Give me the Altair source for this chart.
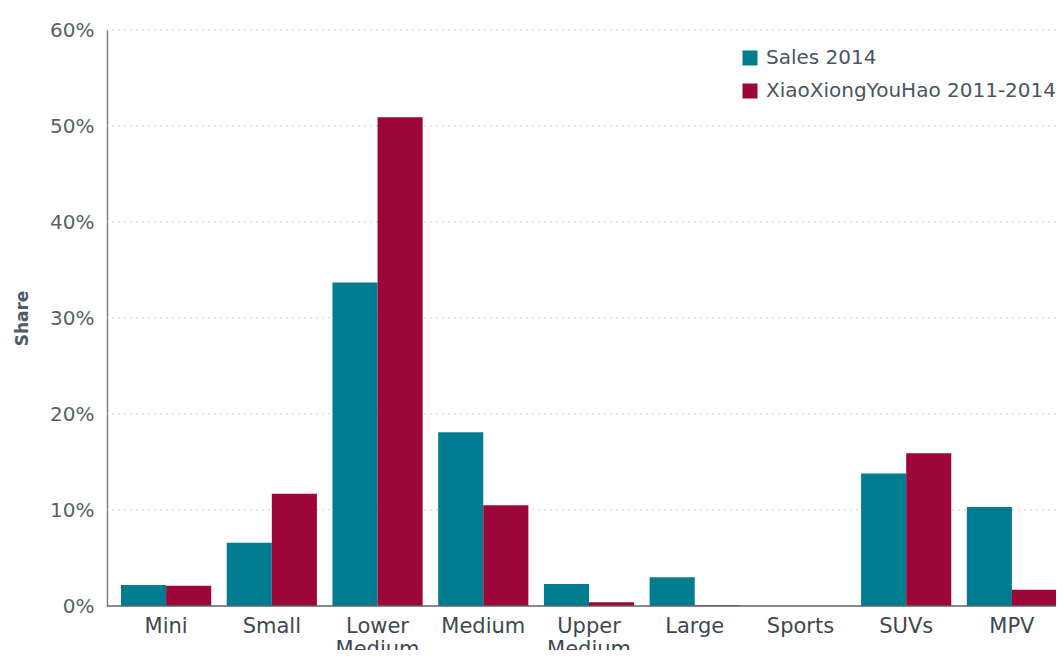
import altair as alt
import pandas as pd

categories = ["Mini", "Small", "Lower Medium", "Medium", "Upper Medium", "Large", "Sports", "SUVs", "MPV"]
series_names = ["Sales 2014", "XiaoXiongYouHao 2011-2014"]
sales_2014 = [0.022, 0.066, 0.337, 0.181, 0.023, 0.030, 0.0, 0.138, 0.103]
xxyh_2011_2014 = [0.021, 0.117, 0.509, 0.105, 0.004, 0.0008, 0.0, 0.159, 0.017]
y_ticks = [0.1, 0.2, 0.3, 0.4, 0.5, 0.6]
colors = ["#007C91", "#9D0639"]

rows = []
for i, c in enumerate(categories):
    rows.append({"Category": c, "Series": series_names[0], "Share": sales_2014[i]})
    rows.append({"Category": c, "Series": series_names[1], "Share": xxyh_2011_2014[i]})
df = pd.DataFrame(rows)
grid_df = pd.DataFrame({"Share": y_ticks})

FONT = "DejaVu Sans"
yscale = alt.Scale(domain=[0, 0.6], nice=False)
yaxis = alt.Axis(title="Share", format=".0%", values=[0, 0.1, 0.2, 0.3, 0.4, 0.5, 0.6],
                 ticks=False, grid=False, labelFontSize=20, labelColor="#56616a",
                 labelFont=FONT, labelPadding=13, titleFont=FONT, titleFontSize=17,
                 titleFontWeight="bold", titleColor="#4f5a63", titlePadding=18,
                 domainColor="#7a8288", domainWidth=1.5)

grid = alt.Chart(grid_df).mark_rule(color="#c8c8c8", strokeDash=[2, 4], strokeWidth=1.2).encode(
    y=alt.Y("Share:Q", scale=yscale, axis=yaxis)
)

bars = alt.Chart(df).mark_bar().encode(
    x=alt.X("Category:N", sort=categories,
            scale=alt.Scale(range=[14, 950], paddingInner=0.147, paddingOuter=0),
            axis=alt.Axis(title=None, labelAngle=0, ticks=False, domain=False,
                          labelExpr="split(datum.label, ' ')",
                          labelFontSize=21, labelFontWeight="normal",
                          labelColor="#3d4852", labelFont=FONT,
                          labelPadding=9, labelLineHeight=23)),
    xOffset=alt.XOffset("Series:N", sort=series_names),
    y=alt.Y("Share:Q", scale=yscale, axis=yaxis),
    color=alt.Color("Series:N", sort=series_names,
                    scale=alt.Scale(domain=series_names, range=colors),
                    legend=alt.Legend(title=None, orient="none", legendX=633, legendY=18,
                                      symbolType="square", symbolSize=225,
                                      symbolStrokeWidth=0, labelFontSize=20,
                                      labelFont=FONT, labelColor="#4a555e", labelLimit=0,
                                      rowPadding=13, labelOffset=6)),
)

baseline = alt.Chart(pd.DataFrame({"Share": [0.0]})).mark_rule(color="#5a636b", strokeWidth=1.5).encode(
    y=alt.Y("Share:Q", scale=yscale, axis=yaxis)
)

chart = alt.layer(grid, bars, baseline).properties(
    width=949,
    height=576,
    autosize=alt.AutoSizeParams(type="none"),
    padding={"left": 99, "top": 22, "right": 0, "bottom": 44},
).configure_view(stroke=None)

chart.save("out.html", embed_options={"renderer": "svg", "actions": False})
